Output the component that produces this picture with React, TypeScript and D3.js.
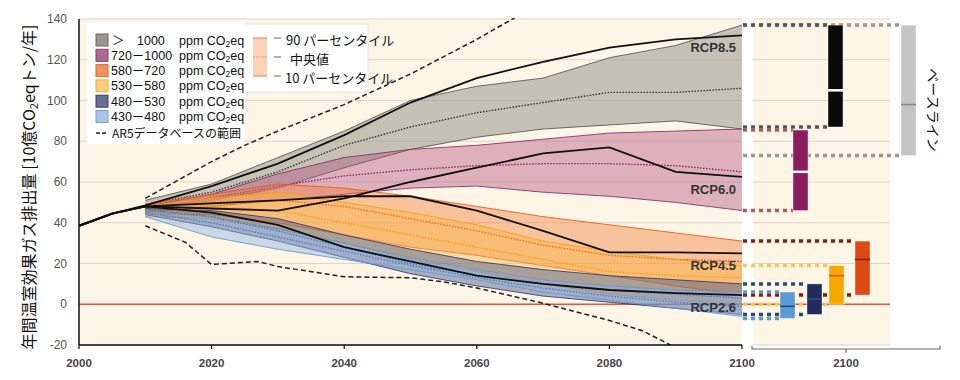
import React from 'react';
import * as d3 from 'd3';

// ---------- DATA ----------
const bandYears = [2010, 2020, 2030, 2040, 2050, 2060, 2070, 2080, 2090, 2100];

const gray90 = [51, 59, 72, 85, 100, 107, 111, 121, 127, 137];
const gray50 = [49, 55, 65, 78, 87, 94, 99, 104, 104, 106];
const gray10 = [47, 51, 57, 67, 76, 82, 86, 88, 90, 86];

const purple90 = [48, 54, 64, 72, 76, 78, 81, 84, 85, 86];
const purple50 = [47, 52, 58, 63, 66, 68, 69, 69, 68, 65];
const purple10 = [45, 48, 51, 54, 57, 58, 55, 53, 50, 46];

const orange90 = [49, 54, 59, 57, 53, 48, 43, 39, 35, 31];
const orange50 = [48, 50, 51, 48, 42, 36, 29, 24, 22, 21];
const orange10 = [44, 44, 40, 34, 28, 24, 19, 14, 9, 4.5];

const yellow90 = [48, 52, 55, 50, 45, 39, 31, 26, 22, 19];
const yellow50 = [47, 48, 46, 40, 34, 28, 22, 16, 14, 13];
const yellow10 = [43, 42, 37, 30, 22, 16, 10, 5, 2, 0];

const navy90 = [47, 46, 42, 34, 27, 21, 17, 14, 12, 10];
const navy50 = [46, 43, 36, 28, 20, 14, 10, 7, 5, 3];
const navy10 = [44, 38, 31, 23, 15, 9, 4, 1, -2, -5];

const lblue90 = [46, 43, 37, 30, 23, 17, 12, 9, 7, 6];
const lblue50 = [45, 40, 33, 26, 19, 13, 8, 4, 1, -1];
const lblue10 = [43, 33, 27, 22, 17, 12, 6, 2, -2, -6];

const rcpYears = [2000, 2005, 2010, 2020, 2030, 2040, 2050, 2060, 2070, 2080, 2090, 2100];
const rcp85 = [38.5, 44.5, 48.5, 58, 69, 83, 99, 111, 119, 126, 130, 132];
const rcp60 = [38.5, 44.5, 48, 47, 46, 52, 60, 67, 74, 77, 65, 62.5];
const rcp45 = [38.5, 44.5, 48, 49.5, 51, 53, 53, 46, 36, 25.5, 25.5, 25];
const rcp26 = [38.5, 44.5, 48, 45, 39, 28, 21, 14, 10, 7, 5.5, 4.5];

const ar5UpperYears = [2010, 2015, 2020, 2025, 2030, 2040, 2050, 2060, 2067];
const ar5Upper = [52, 61, 70, 78, 85, 98, 113, 130, 143];
const ar5LowerYears = [2010, 2016, 2020, 2027, 2030, 2040, 2050, 2055, 2060, 2070, 2080, 2085, 2091];
const ar5Lower = [38.5, 30.5, 19.5, 21, 18.5, 13.5, 13, 11, 8, 0.5, -8, -13, -23];

const yTicks = [-20, 0, 20, 40, 60, 80, 100, 120, 140];
const xTicks = [2000, 2020, 2040, 2060, 2080, 2100];

const rcpNames = ['RCP8.5', 'RCP6.0', 'RCP4.5', 'RCP2.6'];
const rcpLabelValues = [124, 54, 17, -4];

const legendLabels = ['1000', '720－1000', '580－720', '530－580', '480－530', '430－480'];
const boxNames = ['430-480', '480-530', '530-580', '580-720', '720-1000', '>1000', 'baseline'];
const boxLow = [-7, -5, 0, 4.5, 46, 87, 73];
const boxMed = [-1, 2.5, 14, 22, 65, 105, 98];
const boxHigh = [6, 10, 19, 31, 85.5, 137, 137];

// ---------- STYLE ----------
const W = 960, H = 380;
const x = d3.scaleLinear().domain([2000, 2100]).range([79, 742]);
const y = d3.scaleLinear().domain([-20, 140]).range([345, 19]);
const boxX = d3.scaleOrdinal<string, number>().domain(boxNames).range([780, 807, 829, 855, 793, 828, 901]);
const boxW = 15;

const FONT = "'Liberation Sans', Arial, 'Noto Sans CJK JP', sans-serif";
const JP = "'Noto Sans CJK JP', 'Liberation Sans', sans-serif";

const bands = [
  { hi: gray90, md: gray50, lo: gray10, fill: '#8f8b84', op: 0.5, edge: '#555', med: '#333' },
  { hi: purple90, md: purple50, lo: purple10, fill: '#b24f80', op: 0.42, edge: '#8b2a66', med: '#8b2070' },
  { hi: orange90, md: orange50, lo: orange10, fill: '#f07a35', op: 0.42, edge: '#e8561a', med: '#e0401a' },
  { hi: yellow90, md: yellow50, lo: yellow10, fill: '#f9b440', op: 0.42, edge: '#f4a300', med: '#f4a300' },
  { hi: navy90, md: navy50, lo: navy10, fill: '#4a5585', op: 0.45, edge: '#2a3a78', med: '#2a4a90' },
  { hi: lblue90, md: lblue50, lo: lblue10, fill: '#92b0dd', op: 0.45, edge: '#5b9bd5', med: '#4a80c0' },
];

const legendColors = [
  ['#9a9693', '#666'], ['#b06a90', '#8b3a6a'], ['#ef9060', '#e06a30'],
  ['#fccf7f', '#f4b030'], ['#6a6e90', '#3a4070'], ['#a9c4e6', '#7aa2d6'],
];

const boxStyle: Record<string, { fill: string; med: string; conn: string }> = {
  '430-480': { fill: '#5b9bd5', med: '#2a4a7a', conn: '#5b9bd5' },
  '480-530': { fill: '#1f2c5c', med: '#3a4a80', conn: '#1f4e79' },
  '530-580': { fill: '#f5a800', med: '#e8502a', conn: '#fbc55a' },
  '580-720': { fill: '#de4a12', med: '#7a1f0a', conn: '#8b1a0a' },
  '720-1000': { fill: '#8b1c60', med: '#ffffff', conn: '#a8605a' },
  '>1000': { fill: '#0a0a0a', med: '#ffffff', conn: '#555555' },
  'baseline': { fill: '#c4c4c4', med: '#888888', conn: '#999999' },
};

export default function App() {
  const mkArea = (hi: number[], lo: number[]) =>
    d3.area<number>().x((_, i) => x(bandYears[i])).y0((_, i) => y(lo[i])).y1((_, i) => y(hi[i]))(hi) || '';
  const mkLine = (xs: number[], vs: number[]) =>
    d3.line<number>().x((_, i) => x(xs[i])).y((d) => y(d))(vs) || '';

  const orderConn = ['baseline', '>1000', '720-1000', '580-720', '530-580', '480-530', '430-480'];

  return (
    <svg width={W} height={H} style={{ display: 'block', position: 'absolute', left: 0, top: 0 }} fontFamily={FONT}>
      <defs>
        <clipPath id="plotClip">
          <rect x={x(2000)} y={y(140) - 1} width={x(2100) - x(2000)} height={y(-20) - y(140) + 1} />
        </clipPath>
      </defs>
      {/* backgrounds */}
      <rect x={x(2000)} y={y(140)} width={x(2100) - x(2000)} height={y(-20) - y(140)} fill="#fdf6e7" />
      <rect x={753} y={y(140)} width={137} height={y(-20) - y(140)} fill="#fdf6e7" />
      {/* grid */}
      {yTicks.filter((t) => t !== 0).map((t) => (
        <g key={'g' + t}>
          <line x1={x(2000)} x2={x(2100)} y1={y(t)} y2={y(t)} stroke="#dcd6cc" strokeWidth={1.2} />
          <line x1={753} x2={890} y1={y(t)} y2={y(t)} stroke="#dcd6cc" strokeWidth={1.2} />
        </g>
      ))}
      <line x1={x(2000)} x2={890} y1={y(0)} y2={y(0)} stroke="#e8533f" strokeWidth={1.5} />

      <g clipPath="url(#plotClip)">
        {bands.map((b, i) => (
          <g key={'b' + i}>
            <path d={mkArea(b.hi, b.lo)} fill={b.fill} fillOpacity={b.op} />
            <path d={mkLine(bandYears, b.hi)} fill="none" stroke={b.edge} strokeWidth={1} strokeOpacity={0.85} />
            <path d={mkLine(bandYears, b.lo)} fill="none" stroke={b.edge} strokeWidth={1} strokeOpacity={0.85} />
            <path d={mkLine(bandYears, b.md)} fill="none" stroke={b.med} strokeWidth={1.4} strokeDasharray="1.5 1.5" />
          </g>
        ))}
        {[rcp85, rcp60, rcp45, rcp26].map((r, i) => (
          <path key={'r' + i} d={mkLine(rcpYears, r)} fill="none" stroke="#111" strokeWidth={1.8} />
        ))}
        <path d={mkLine(ar5UpperYears, ar5Upper)} fill="none" stroke="#222" strokeWidth={1.5} strokeDasharray="5 3" />
        <path d={mkLine(ar5LowerYears, ar5Lower)} fill="none" stroke="#222" strokeWidth={1.5} strokeDasharray="5 3" />
      </g>

      {/* RCP labels */}
      {rcpNames.map((n, i) => (
        <text key={n} x={736} y={y(rcpLabelValues[i])} textAnchor="end" fontSize={13} fontWeight="bold" fill="#333">{n}</text>
      ))}

      {/* axes */}
      <line x1={x(2000)} x2={x(2000)} y1={y(140)} y2={y(-20)} stroke="#111" strokeWidth={1.5} />
      <line x1={x(2000)} x2={x(2100)} y1={y(-20)} y2={y(-20)} stroke="#111" strokeWidth={1.5} />
      {yTicks.map((t) => (
        <text key={'yt' + t} x={67} y={y(t) + 4} textAnchor="end" fontSize={12} fill="#555">{t}</text>
      ))}
      {xTicks.map((t) => (
        <g key={'xt' + t}>
          <line x1={x(t)} x2={x(t)} y1={y(-20)} y2={y(-20) + 4} stroke="#111" strokeWidth={1.2} />
          <text x={x(t)} y={367} textAnchor="middle" fontSize={11.5} fontWeight="bold" fill="#444">{t}</text>
        </g>
      ))}

      {/* right panel connectors */}
      {orderConn.map((n) => {
        const i = boxNames.indexOf(n);
        const s = boxStyle[n];
        return (
          <g key={'c' + n}>
            {[boxHigh[i], boxLow[i]].map((v, j) => (
              <line key={j} x1={x(2100) + 1} x2={boxX(n)} y1={y(v)} y2={y(v)} stroke={s.conn} strokeWidth={3.5} strokeDasharray="4 4" />
            ))}
          </g>
        );
      })}
      {boxNames.map((n, i) => {
        const s = boxStyle[n];
        return (
          <g key={'bx' + n}>
            <rect x={boxX(n)} y={y(boxHigh[i])} width={boxW} height={y(boxLow[i]) - y(boxHigh[i])} fill={s.fill} stroke="#ffffff" strokeOpacity={0.5} strokeWidth={0.8} />
            <line x1={boxX(n)} x2={boxX(n) + boxW} y1={y(boxMed[i])} y2={y(boxMed[i])} stroke={s.med} strokeWidth={n === '>1000' || n === '720-1000' ? 2.5 : 1.6} />
          </g>
        );
      })}
      {/* right axis bracket */}
      <path d={`M752,346 L752,349 L940,349 L940,346`} fill="none" stroke="#666" strokeWidth={1.2} />
      <line x1={846} x2={846} y1={349} y2={353} stroke="#666" strokeWidth={1.2} />
      <text x={846} y={367} textAnchor="middle" fontSize={11.5} fontWeight="bold" fill="#444">2100</text>
      <text transform="translate(928,110) rotate(90)" textAnchor="middle" fontSize={14} fontFamily={JP} fill="#111">ベースライン</text>

      {/* y title */}
      <text transform="translate(35,187) rotate(-90)" textAnchor="middle" fontSize={16} fontFamily={JP} fill="#111">
        年間温室効果ガス排出量 [10億CO<tspan dy={3} fontSize={11}>2</tspan><tspan dy={-3}>eqトン/年]</tspan>
      </text>

      {/* legend 2 (behind legend 1) */}
      <rect x={243} y={24} width={125} height={68} fill="#fff" stroke="#e6e6e6" />
      <rect x={253} y={38} width={14} height={38} fill="#f9d3b8" />
      <line x1={253} x2={267} y1={38} y2={38} stroke="#f0a070" strokeWidth={1.5} />
      <line x1={253} x2={267} y1={76} y2={76} stroke="#f0a070" strokeWidth={1.5} />
      <line x1={253} x2={267} y1={57} y2={57} stroke="#f08a40" strokeWidth={1.2} strokeDasharray="1.5 1.5" />
      {[38, 57, 76].map((yy) => (
        <line key={'d' + yy} x1={274} x2={281} y1={yy} y2={yy} stroke="#999" strokeWidth={1.5} />
      ))}
      <text x={286} y={45} fontSize={13} fontFamily={JP} fill="#111">90 パーセンタイル</text>
      <text x={290} y={64} fontSize={13} fontFamily={JP} fill="#111">中央値</text>
      <text x={285} y={83} fontSize={13} fontFamily={JP} fill="#111">10 パーセンタイル</text>

      {/* legend 1 */}
      <rect x={87} y={23} width={158} height={121} fill="#fff" />
      {legendLabels.map((l, i) => {
        const cy = 40 + i * 15.3;
        return (
          <g key={'lg' + i}>
            <rect x={96} y={cy - 6} width={12} height={12} fill={legendColors[i][0]} stroke={legendColors[i][1]} strokeWidth={1} />
            {i === 0 ? (
              <>
                <text x={112} y={cy + 4.5} fontSize={12.5} fontFamily={JP} fill="#111">＞</text>
                <text x={137} y={cy + 4.5} fontSize={12.5} fill="#111">{l}</text>
              </>
            ) : (
              <text x={111} y={cy + 4.5} fontSize={12.5} fill="#111">{l}</text>
            )}
            <text x={179} y={cy + 4.5} fontSize={12.5} fill="#111">
              ppm CO<tspan dy={2} fontSize={8.5}>2</tspan><tspan dy={-2}>eq</tspan>
            </text>
          </g>
        );
      })}
      <line x1={96} x2={108} y1={133} y2={133} stroke="#222" strokeWidth={1.5} strokeDasharray="4 2" />
      <text x={112} y={138} fontSize={12} fontFamily={JP} fill="#111">AR5データベースの範囲</text>
    </svg>
  );
}
